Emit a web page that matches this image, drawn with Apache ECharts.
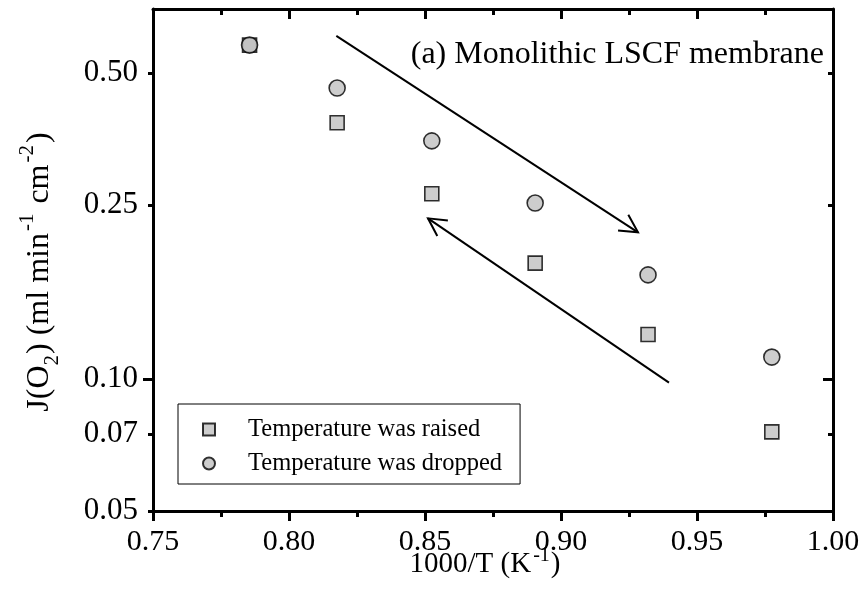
<!DOCTYPE html>
<html>
<head>
<meta charset="utf-8">
<script src="https://cdn.jsdelivr.net/npm/echarts@6/dist/echarts.min.js"></script>
<style>
    html, body { margin: 0; padding: 0; background: #fff; }
    #main { width: 866px; height: 596px; }
</style>
</head>
<body>
<div id="main"></div>
<script>
// 1000/T values of the measuring points
var invTemp = [0.7855, 0.8177, 0.8525, 0.8905, 0.9320, 0.9775];
// J(O2) while heating and cooling
var raisedFlux = [0.579, 0.385, 0.265, 0.184, 0.1265, 0.0758];
var droppedFlux = [0.579, 0.462, 0.350, 0.2524, 0.173, 0.1123];
// y axis tick positions and labels
var yTickValues = [0.05, 0.075, 0.1, 0.25, 0.5];
var yTickLabels = ['0.05', '0.07', '0.10', '0.25', '0.50'];
var yMajorTicks = [0.1];
// arrows: [x1, y1, x2, y2]
var arrows = [
    [0.8174, 0.608, 0.9283, 0.2164],
    [0.9397, 0.0982, 0.8511, 0.2329]
];

var serif = '"Liberation Serif", "Times New Roman", serif';
var black = '#000';

var myChart = echarts.init(document.getElementById('main'));

function pairs(xs, ys) {
    return xs.map(function (x, i) { return [x, ys[i]]; });
}

var baseX = {
    type: 'value',
    min: 0.75,
    max: 1.0,
    interval: 0.05,
    axisLine: {show: true, onZero: false, lineStyle: {color: black, width: 3}},
    axisTick: {show: true, length: 10, lineStyle: {color: black, width: 3}},
    minorTick: {show: true, splitNumber: 2, length: 6, lineStyle: {color: black, width: 3}},
    splitLine: {show: false}
};

var baseY = {
    type: 'log',
    min: 0.05,
    max: 0.7,
    splitLine: {show: false},
    minorTick: {show: false}
};

// superscript / subscript: the tall main line box pushes them up / down
var supX = {fontFamily: serif, fontSize: 20, color: black, verticalAlign: 'top', padding: [3, 1, 0, 2]};
var supY = {fontFamily: serif, fontSize: 21, color: black, verticalAlign: 'top', padding: [0, 2, 0, 2]};
var subY = {fontFamily: serif, fontSize: 21, color: black, verticalAlign: 'bottom', padding: [0, 1, 0, 0]};

var option = {
    animation: false,
    backgroundColor: '#fff',
    title: {
        text: '(a) Monolithic LSCF membrane',
        right: 42,
        top: 39,
        padding: 0,
        textStyle: {fontFamily: serif, fontSize: 32, fontWeight: 'normal', color: black}
    },
    grid: {left: 153, right: 33, top: 9, bottom: 85, containLabel: false},
    legend: {
        orient: 'vertical',
        left: 178,
        top: 404,
        padding: [13, 18, 8, 24],
        itemGap: 9,
        itemWidth: 12,
        itemHeight: 12,
        borderColor: black,
        borderWidth: 1,
        textStyle: {fontFamily: serif, fontSize: 24.5, color: black, padding: [0, 0, 0, 28]},
        data: ['Temperature was raised', 'Temperature was dropped']
    },
    xAxis: [
        echarts.util.merge({
            position: 'bottom',
            axisTick: {inside: false},
            axisLabel: {
                margin: 16,
                fontFamily: serif, fontSize: 30, color: black,
                formatter: function (v) { return v.toFixed(2); }
            },
            name: '1000/T (K{sup|-1})',
            nameLocation: 'middle',
            nameGap: 32,
            nameMoveOverlap: false,
            nameTextStyle: {
                fontFamily: serif, fontSize: 29, color: black, lineHeight: 42,
                padding: [0, 16, 0, 0],
                rich: {sup: supX}
            }
        }, baseX, true),
        echarts.util.merge({
            position: 'top',
            axisTick: {inside: true},
            axisLabel: {show: false}
        }, baseX, true)
    ],
    yAxis: [
        echarts.util.merge({
            position: 'left',
            axisLine: {show: true, onZero: false, lineStyle: {color: black, width: 3}},
            axisTick: {show: true, inside: false, length: 5, customValues: yTickValues, lineStyle: {color: black, width: 3}},
            axisLabel: {
                margin: 15,
                customValues: yTickValues,
                fontFamily: serif, fontSize: 31, color: black,
                formatter: function (v) {
                    var i = yTickValues.findIndex(function (t) { return Math.abs(t - v) < 1e-6; });
                    return i >= 0 ? yTickLabels[i] : '';
                }
            },
            name: 'J(O{sub|2}) (ml min{sup|-1} cm{sup|-2})',
            nameLocation: 'middle',
            nameGap: 90,
            nameMoveOverlap: false,
            nameTextStyle: {
                fontFamily: serif, fontSize: 32, color: black, lineHeight: 46,
                padding: [0, 24, 0, 0],
                rich: {sup: supY, sub: subY}
            }
        }, baseY, true),
        echarts.util.merge({
            position: 'left',
            axisLine: {show: false},
            axisTick: {show: true, inside: false, length: 10, customValues: yMajorTicks, lineStyle: {color: black, width: 3}},
            axisLabel: {show: false}
        }, baseY, true),
        echarts.util.merge({
            position: 'right',
            axisLine: {show: true, onZero: false, lineStyle: {color: black, width: 3}},
            axisTick: {show: true, inside: true, length: 5, customValues: yTickValues, lineStyle: {color: black, width: 3}},
            axisLabel: {show: false}
        }, baseY, true),
        echarts.util.merge({
            position: 'right',
            axisLine: {show: false},
            axisTick: {show: true, inside: true, length: 10, customValues: yMajorTicks, lineStyle: {color: black, width: 3}},
            axisLabel: {show: false}
        }, baseY, true)
    ],
    series: [
        {
            name: 'Temperature was raised',
            type: 'scatter',
            symbol: 'rect',
            symbolSize: 14,
            itemStyle: {color: '#c0c0c0', borderColor: black, borderWidth: 1.6},
            data: pairs(invTemp, raisedFlux),
            z: 3
        },
        {
            name: 'Temperature was dropped',
            type: 'scatter',
            symbol: 'circle',
            symbolSize: 16,
            itemStyle: {color: '#c0c0c0', borderColor: black, borderWidth: 1.6},
            data: pairs(invTemp, droppedFlux),
            z: 4
        },
        {
            type: 'custom',
            silent: true,
            clip: false,
            encode: {x: [0, 2], y: [1, 3]},
            data: arrows,
            renderItem: function (params, api) {
                var p1 = api.coord([api.value(0), api.value(1)]);
                var p2 = api.coord([api.value(2), api.value(3)]);
                var ang = Math.atan2(p2[1] - p1[1], p2[0] - p1[0]);
                var len = 20, spread = 28 * Math.PI / 180;
                var h1 = [p2[0] - len * Math.cos(ang - spread), p2[1] - len * Math.sin(ang - spread)];
                var h2 = [p2[0] - len * Math.cos(ang + spread), p2[1] - len * Math.sin(ang + spread)];
                return {
                    type: 'group',
                    children: [
                        {type: 'line', shape: {x1: p1[0], y1: p1[1], x2: p2[0], y2: p2[1]}, style: {stroke: black, lineWidth: 2}},
                        {type: 'polyline', shape: {points: [h1, p2, h2]}, style: {stroke: black, lineWidth: 2, fill: null}}
                    ]
                };
            }
        }
    ]
};

myChart.setOption(option);
</script>
</body>
</html>
